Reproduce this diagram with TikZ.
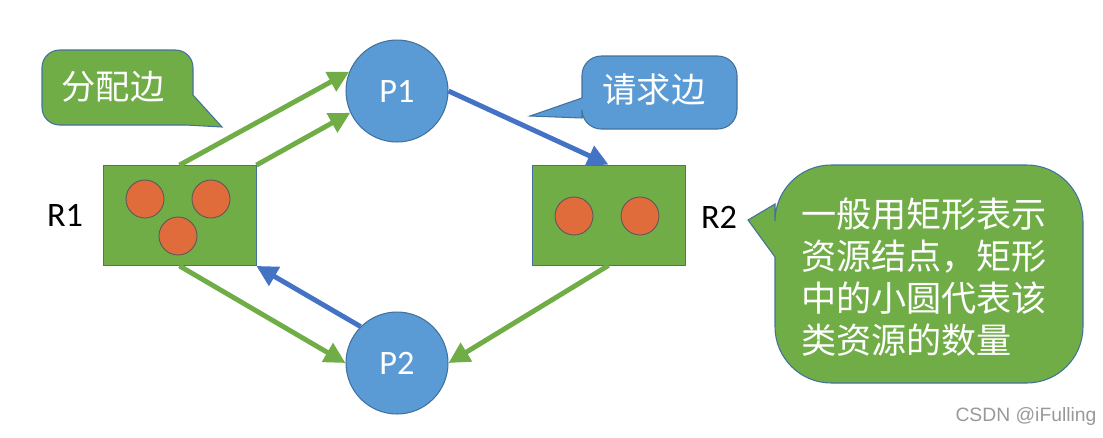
\documentclass[tikz,border=0pt]{standalone}
\usepackage{fontspec}
\setmainfont{Carlito}
\setsansfont{Liberation Sans}
\newfontfamily\cjk{Noto Sans CJK SC}
\usetikzlibrary{arrows.meta}
\definecolor{offgreen}{RGB}{112,173,71}
\definecolor{offblue}{RGB}{91,155,213}
\definecolor{reqblue}{RGB}{68,114,196}
\definecolor{unitred}{RGB}{224,108,60}
\definecolor{edgeblue}{RGB}{65,113,156}
\tikzset{
  proc/.style={circle, draw=edgeblue, line width=0.6pt, fill=offblue, minimum size=2.04cm, inner sep=0pt, text=white, font=\fontsize{19.5}{22}\selectfont},
  res/.style={rectangle, draw=edgeblue, line width=0.5pt, fill=offgreen, minimum width=3.06cm, minimum height=2.0cm, inner sep=0pt},
  unit/.style={circle, draw=black!65, line width=0.5pt, fill=unitred, minimum size=0.76cm, inner sep=0pt},
  lbl/.style={font=\fontsize{19.5}{22}\selectfont},
  alloc/.style={draw=offgreen, line width=2.8pt, -{Triangle[length=0.42cm,width=0.42cm]}},
  req/.style={draw=reqblue, line width=2.8pt, -{Triangle[length=0.42cm,width=0.42cm]}},
  tipgreen/.style={draw=edgeblue, line width=0.6pt, fill=offgreen},
  tipblue/.style={draw=edgeblue, line width=0.6pt, fill=offblue},
  tiptext/.style={text=white, font=\cjk\fontsize{19.5}{23}\selectfont}
}
\begin{document}
\begin{tikzpicture}[x=0.02cm, y=-0.02cm]
  \useasboundingbox (0,0) rectangle (1103,437);

  % callouts
  \draw[tipgreen, rounded corners=10] (117,50) -- (193,50) [sharp corners] -- (193,95) -- (222,127) -- (186,125) [rounded corners=10] -- (42,125) -- (42,50) -- cycle;
  \node[tiptext] (allocnote) at (113,87) {分配边};

  \draw[tipblue, rounded corners=11] (660,56) -- (737,56) -- (737,129) -- (582,129) [sharp corners] -- (582,118) -- (530,116) -- (582,98) [rounded corners=11] -- (582,56) -- cycle;
  \node[tiptext] (reqnote) at (654,90) {请求边};

  \draw[tipgreen, rounded corners=32] (930,165) -- (1083,165) -- (1083,383) -- (775,383) [sharp corners] -- (775,257) -- (748,220) -- (775,204) [rounded corners=32] -- (775,165) -- cycle;
  \node[tiptext, font=\cjk\fontsize{20}{23.8}\selectfont, align=left] (resnote) at (924,277)
    {一般用矩形表示\\资源结点，矩形\\中的小圆代表该\\类资源的数量};

  % processes and resources
  \node[proc] (P1) at (397,91) {P1};
  \node[proc] (P2) at (397,363) {P2};
  \node[res] (R1) at (179.5,215.5) {};
  \node[res] (R2) at (608.5,215) {};
  \foreach \x/\y [count=\i] in {145/199, 211/199, 178/236}
    \node[unit] (R1u\i) at (\x,\y) {};
  \foreach \x/\y [count=\i] in {574/216, 640/216}
    \node[unit] (R2u\i) at (\x,\y) {};
  \node[lbl] (R1lbl) at (65,215) {R1};
  \node[lbl] (R2lbl) at (719,217) {R2};

  % edges
  \draw[alloc] (R1.north) -- (P1.158);
  \draw[alloc] (R1.north east) -- (P1.205);
  \draw[req] (P1.east) -- (R2.north);
  \draw[alloc] (R2.south) -- (P2.east);
  \draw[req] (P2.135) -- (R1.south east);
  \draw[alloc] (R1.south) -- (P2.west);

  \node[text=black!40, font=\sffamily\fontsize{11}{13}\selectfont] (mark) at (1026,416) {CSDN @iFulling};
\end{tikzpicture}
\end{document}
